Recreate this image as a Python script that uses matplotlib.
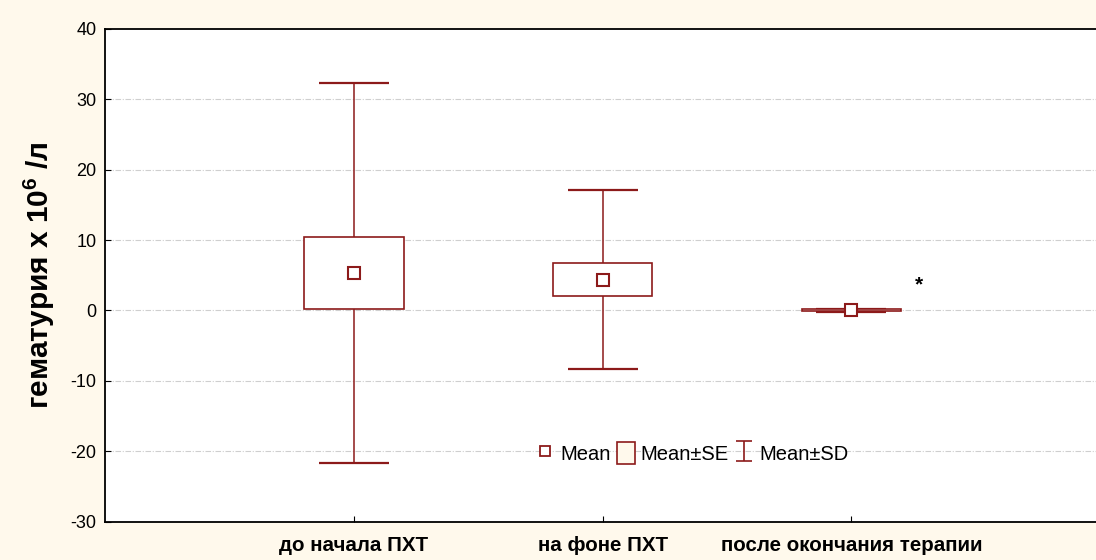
import matplotlib
matplotlib.use('Agg')
import matplotlib.pyplot as plt
from matplotlib.patches import Rectangle
from matplotlib.lines import Line2D

plt.rcParams['font.family'] = ['Liberation Sans', 'DejaVu Sans']
plt.rcParams['axes.unicode_minus'] = False
plt.rcParams['mathtext.fontset'] = 'custom'
plt.rcParams['mathtext.bf'] = 'Liberation Sans:bold'

categories = ['до начала ПХТ', 'на фоне ПХТ', 'после окончания терапии']
means = [5.3, 4.4, 0.05]
se = [5.15, 2.4, 0.1]
sd = [27.0, 12.75, 0.22]

dark_red = '#8c1a1a'
bg = '#fff9ec'

fig = plt.figure(figsize=(10.96, 5.6), dpi=100, facecolor=bg)
ax = fig.add_axes([0.0958, 0.0684, 0.908, 0.880])
ax.set_facecolor('white')

xs = [1, 2, 3]
box_w = 0.4

# SD whiskers with caps
ax.errorbar(xs, means, yerr=sd, fmt='none', ecolor=dark_red,
            elinewidth=1.1, capsize=25, capthick=1.6, zorder=2)

# SE boxes
for x, m, s in zip(xs, means, se):
    ax.add_patch(Rectangle((x - box_w / 2, m - s), box_w, 2 * s,
                           facecolor='white', edgecolor=dark_red,
                           linewidth=1.2, zorder=3))

# means
ax.plot(xs, means, 's', mfc='white', mec=dark_red, mew=1.5, ms=8, zorder=4,
        linestyle='none')

ax.text(3.27, 3.6, '*', fontsize=15, fontweight='bold', ha='center', va='center')

ax.set_xlim(0, 4)
ax.set_ylim(-30, 40)
ax.set_yticks(range(-30, 41, 10))
ax.set_xticks(xs)
ax.set_xticklabels(categories, fontweight='bold', fontsize=14.8)
ax.tick_params(axis='x', direction='in', length=4, pad=10)
ax.tick_params(axis='y', direction='in', length=4, labelsize=13, pad=6)

for y in range(-20, 40, 10):
    ax.axhline(y, color='#cfcfcf', linewidth=0.8, linestyle=(0, (5, 1.5, 1, 1.5)),
               zorder=1)

ax.spines['right'].set_visible(False)
for side in ['left', 'top', 'bottom']:
    ax.spines[side].set_linewidth(1.3)

ax.set_ylabel(r'гематурия x 10$^{\mathbf{6}}$ /л', fontsize=21.5,
              fontweight='bold', labelpad=10)

# legend handles; the SD entry uses an empty errorbar with short caps
mean_h = Line2D([], [], marker='s', linestyle='none', mfc='white', mec=dark_red,
                mew=1.3, ms=7)
se_h = Rectangle((0, 0), 1, 1, facecolor=bg, edgecolor=dark_red, linewidth=1.2)
sd_h = ax.errorbar([float('nan')], [float('nan')], yerr=[1.0], fmt='none',
                   ecolor=dark_red, elinewidth=1.2, capsize=6, capthick=1.2)
ax.legend([mean_h, se_h, sd_h], ['Mean', 'Mean±SE', 'Mean±SD'],
          loc='center', bbox_to_anchor=(0.59, 0.139), ncol=3, frameon=False,
          fontsize=14.5, handlelength=0.9, handleheight=1.3,
          handletextpad=0.3, columnspacing=0.3)

fig.savefig('out.png', dpi=100, facecolor=bg)
